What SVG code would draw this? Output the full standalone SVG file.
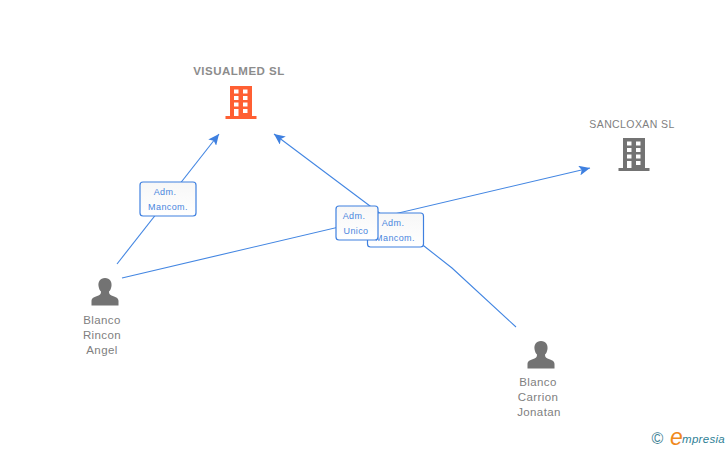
<svg xmlns="http://www.w3.org/2000/svg" width="728" height="450" viewBox="0 0 728 450">
<style>
text{font-family:"Liberation Sans",Arial,sans-serif}
.lbl{font-size:11.500px;fill:#808080;text-anchor:middle;letter-spacing:.4px}
.edge{font-size:9px;fill:#4a86de;text-anchor:middle;letter-spacing:.4px}
.box{fill:url(#g);stroke:#3f80e0;stroke-width:1.200}
.c{fill:none;stroke:#4386e2;stroke-width:1.100;marker-end:url(#a)}
.p{fill:#737373}
</style>
<defs>
<linearGradient id="g" x1="0" y1="0" x2="0" y2="1"><stop offset="0" stop-color="#f7f7f7"/><stop offset="1" stop-color="#fff"/></linearGradient>
<marker id="a" markerUnits="userSpaceOnUse" markerWidth="12" markerHeight="10" refX="11" refY="5" orient="auto"><path d="M0 0L11 5L0 10L2.500 5Z" fill="#3f80e0"/></marker>
<path id="person" d="M0-14C-5-14-7-10-6.500-6C-6-3-5-1-4-.5C-4 1.500-4.500 2.500-6.500 3.500C-10 5-13.500 5.500-13.500 9V13.500H13.500V9C13.500 5.500 10 5 6.500 3.500C4.500 2.500 4 1.500 4-.5C5-1 6-3 6.500-6C7-10 5-14 0-14Z"/>
<path id="bld" fill-rule="evenodd" d="M-11-17H11V13H15.500V16H-15.500V13H-11ZM-7-13.500V-9.500H-2.500V-13.500ZM2-13.500V-9.500H6.500V-13.500ZM-7-7V-3H-2.500V-7ZM2-7V-3H6.500V-7ZM-7-.5V3.500H-2.500V-.5ZM2-.5V3.500H6.500V-.5ZM-7 6V13H-2.500V6ZM2 6V10H6.500V6Z"/>
</defs>
<g id="connectors">
<path class="c" d="M117 264L219 134"/>
<path class="c" d="M122 278L590 168"/>
<path class="c" d="M516 327L452 268L424 246L370 206L274 134"/>
</g>
<g id="edge-adm-1"><rect class="box" x="140" y="182" width="56" height="34" rx="3"/><text class="edge" x="165" y="195">Adm.</text><text class="edge" x="168" y="210">Mancom.</text></g>
<g id="edge-adm-3"><rect class="box" x="367.500" y="213" width="56" height="34" rx="3"/><text class="edge" x="393" y="226">Adm.</text><text class="edge" x="395" y="241">Mancom.</text></g>
<g id="edge-adm-2"><rect class="box" x="336" y="206" width="42" height="34" rx="3"/><text class="edge" x="354" y="219">Adm.</text><text class="edge" x="356" y="234">Unico</text></g>
<g id="visualmed"><text x="239" y="75" text-anchor="middle" font-size="11.500" font-weight="bold" fill="#8c8c8c" letter-spacing=".5">VISUALMED SL</text><use href="#bld" x="241" y="103" fill="#ff5f33"/></g>
<g id="sancloxan"><text x="632" y="128" text-anchor="middle" font-size="10.500" fill="#808080" letter-spacing=".4">SANCLOXAN SL</text><use href="#bld" x="634" y="155" fill="#737373"/></g>
<g id="rincon"><use href="#person" class="p" x="105" y="292"/><text class="lbl" x="102" y="324">Blanco</text><text class="lbl" x="102" y="339">Rincon</text><text class="lbl" x="102" y="354">Angel</text></g>
<g id="carrion"><use href="#person" class="p" x="541" y="355"/><text class="lbl" x="538" y="386">Blanco</text><text class="lbl" x="538" y="401">Carrion</text><text class="lbl" x="539" y="416">Jonatan</text></g>
<g id="logo"><text x="657.500" y="444" text-anchor="middle" font-size="16" fill="#3f8296">©</text><text x="670" y="445" font-size="23" font-style="italic" fill="#f08a1d" font-family="Liberation Serif">e</text><text x="682" y="443" font-size="11.500" font-style="italic" fill="#2f7f96" letter-spacing=".3">mpresia</text></g>
</svg>
